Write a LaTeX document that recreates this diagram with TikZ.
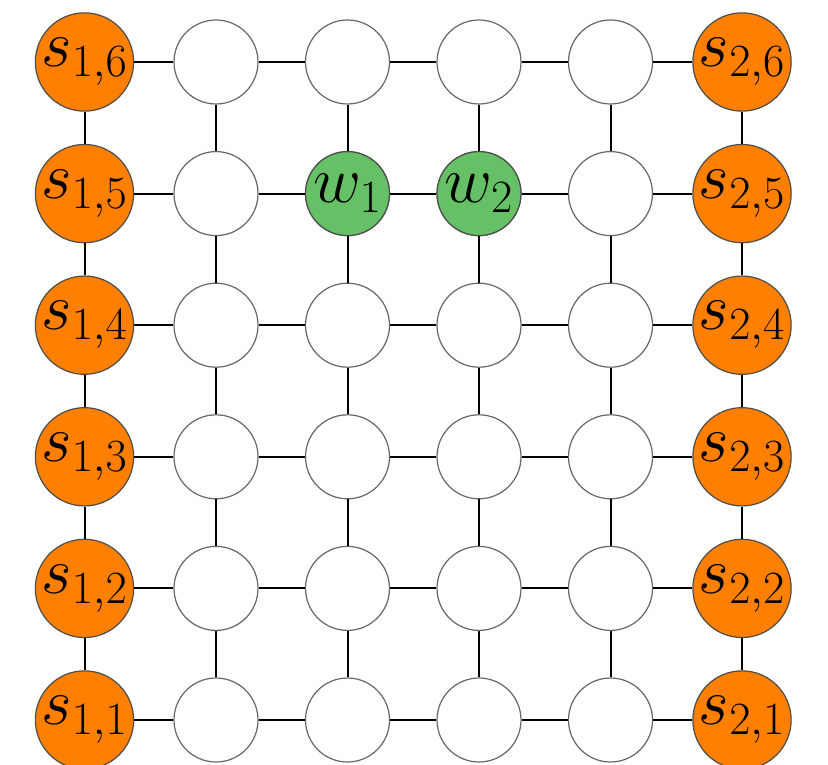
\RequirePackage{fix-cm}
\documentclass[tikz,border=0pt]{standalone}
\definecolor{myorange}{RGB}{255,128,0}
\definecolor{mygreen}{RGB}{102,193,102}
\begin{document}
\begin{tikzpicture}[x=0.5pt,y=-0.5pt,
  vtx/.style={circle,draw=black!60,line width=0.6pt,minimum size=42pt,inner sep=0pt,fill=white,font=\fontsize{33}{40}\selectfont},
  src/.style={vtx,fill=myorange,draw=black!70,minimum size=47pt},
  wn/.style={vtx,fill=mygreen,draw=black!70},
  link/.style={line width=1pt,black}]
\useasboundingbox (0,0) rectangle (828,764);
% nodes
\foreach \i in {0,...,5}{
  \foreach \j in {1,...,6}{
    \pgfmathsetmacro\xx{84.5+131.5*\i}
    \pgfmathsetmacro\yy{62+131.6*(6-\j)}
    \ifnum\i=0
      \node[src] (n-\i-\j) at (\xx,\yy) {$s_{1,\j}$};
    \else\ifnum\i=5
      \node[src] (n-\i-\j) at (\xx,\yy) {$s_{2,\j}$};
    \else
      \node[vtx] (n-\i-\j) at (\xx,\yy) {};
    \fi\fi
  }}
\node[wn] (w1) at (n-2-5) {$w_1$};
\node[wn] (w2) at (n-3-5) {$w_2$};
% horizontal links
\foreach \i in {0,...,4}{
  \pgfmathtruncatemacro\k{\i+1}
  \foreach \j in {1,...,6}{
    \draw[link] (n-\i-\j) -- (n-\k-\j);
  }}
% vertical links
\foreach \i in {0,...,5}{
  \foreach \j in {1,...,5}{
    \pgfmathtruncatemacro\k{\j+1}
    \draw[link] (n-\i-\j) -- (n-\i-\k);
  }}
\end{tikzpicture}
\end{document}
